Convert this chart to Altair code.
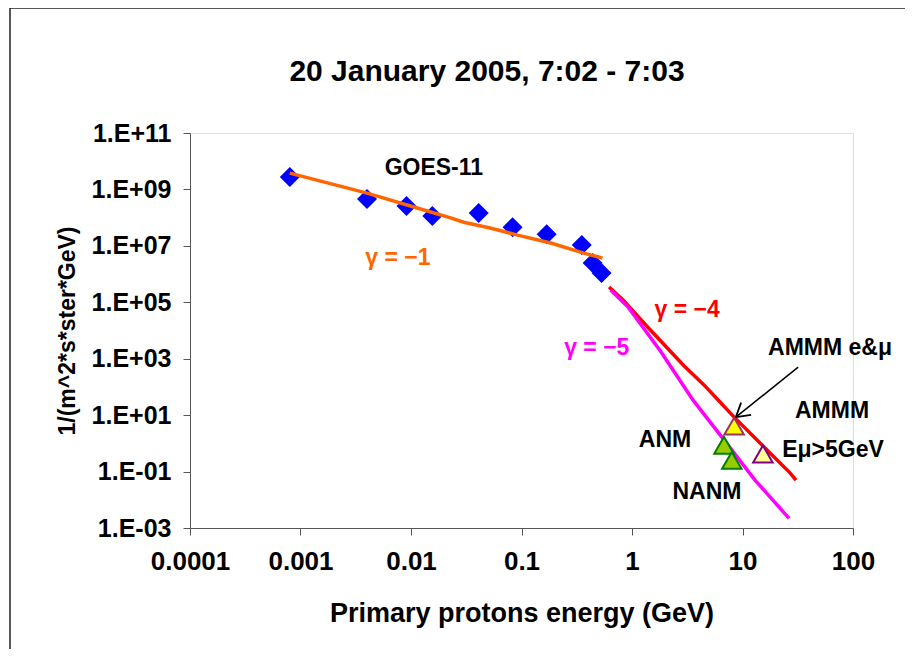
import altair as alt
import pandas as pd

FONT = "Liberation Sans"

title_text = "20 January 2005, 7:02 - 7:03"
x_title = "Primary protons energy (GeV)"
y_title = "1/(m^2*s*ster*GeV)"

x_ticks = [0.0001, 0.001, 0.01, 0.1, 1, 10, 100]
y_exps = [11, 9, 7, 5, 3, 1, -1, -3]
y_tick_labels = ["1.E+11", "1.E+09", "1.E+07", "1.E+05", "1.E+03", "1.E+01", "1.E-01", "1.E-03"]

# GOES-11 measurements (diamonds)
goes_e = [0.0008, 0.004, 0.0091, 0.0156, 0.041, 0.083, 0.169, 0.351, 0.44, 0.53]
goes_f = [2.75e9, 4.6e8, 2.6e8, 1.14e8, 1.45e8, 4.6e7, 2.6e7, 1.07e7, 2.45e6, 1.1e6]

# gamma = -1 fit (orange)
g1_e = [0.0008, 0.004, 0.0114, 0.0228, 0.03, 0.052, 0.092, 0.184, 0.366, 0.54]
g1_f = [3.8e9, 7.4e8, 2.2e8, 9.8e7, 6.9e7, 4.3e7, 2.4e7, 1.26e7, 5.5e6, 3.7e6]

# gamma = -4 (red)
g4_e = [0.62, 0.83, 1.39, 2.95, 4.48, 5.87, 8.4, 26.9, 30.5]
g4_f = [3.5e5, 1.2e5, 1.3e4, 560, 118, 38, 8.5, 0.09, 0.05]

# gamma = -5 (magenta)
g5_e = [0.64, 0.92, 1.82, 3.57, 6.4, 12.97, 26.4]
g5_f = [2.7e5, 6.8e4, 1.8e3, 34, 1.8, 0.05, 0.0022]

# ground-based monitors (triangles)
tri_name = ["AMMM e&μ", "ANM", "NANM", "AMMM Eμ>5GeV"]
tri_e = [8.4, 6.8, 8.0, 15.3]
tri_f = [4.1, 0.86, 0.25, 0.42]
tri_fill = ["#FFFF00", "#99CC00", "#99CC00", "#FFFF99"]
tri_stroke = ["#993366", "#008000", "#008000", "#800080"]

# annotations
ann_text = ["GOES-11", "γ = −1", "γ = −4", "γ = −5", "AMMM e&μ", "AMMM", "Eμ>5GeV", "ANM", "NANM"]
ann_e = [0.0161, 0.0076, 3.15, 0.48, 62, 64.6, 65.9, 1.99, 4.77]
ann_f = [5.7e9, 3.7e6, 5.2e4, 2.4e3, 2.4e3, 13.8, 0.6, 1.29, 0.0186]
ann_color = ["#000000", "#FF6600", "#FF0000", "#FF00FF", "#000000", "#000000", "#000000", "#000000", "#000000"]

# arrow pointing at the AMMM e&mu triangle
arrow_e = [31.9, 8.7]
arrow_f = [500, 8.5]

xs = alt.Scale(type="log", domain=[0.0001, 100], nice=False)
ys = alt.Scale(type="log", domain=[1e-3, 1e11], nice=False)

y_label_expr = "{}[indexof({}, round(log(datum.value)/LN10))]".format(
    "[" + ",".join("'%s'" % s for s in y_tick_labels) + "]",
    "[" + ",".join(str(e) for e in y_exps) + "]",
)

X = alt.X("e:Q", scale=xs, axis=alt.Axis(
    title=x_title, values=x_ticks, format="~g", grid=False,
    labelFont=FONT, labelFontSize=26, labelFontWeight="bold", labelColor="black",
    titleFont=FONT, titleFontSize=27, titleFontWeight="bold", titleColor="black",
    tickSize=7, tickColor="#555555", domainColor="#555555", labelPadding=13, titlePadding=26,
    labelFlush=False, labelOverlap=False))
Y = alt.Y("f:Q", scale=ys, axis=alt.Axis(
    title=y_title, values=[10.0 ** e for e in y_exps], labelExpr=y_label_expr, grid=False,
    labelFont=FONT, labelFontSize=25, labelFontWeight="bold", labelColor="black",
    titleFont=FONT, titleFontSize=23, titleFontWeight="bold", titleColor="black",
    tickSize=7, tickColor="#555555", domainColor="#555555", labelPadding=12, titlePadding=12,
    labelFlush=False, labelOverlap=False))

def df(e, f, **extra):
    d = {"e": e, "f": f}
    d.update(extra)
    return pd.DataFrame(d)

frame = alt.Chart(pd.DataFrame({"a": [0]})).mark_rect(
    fill="transparent", stroke="#222222", strokeWidth=1.5
).encode(x=alt.value(-180), x2=alt.value(1200), y=alt.value(-125), y2=alt.value(1000))

title = alt.Chart(pd.DataFrame({"t": [title_text]})).mark_text(
    font=FONT, fontSize=30, fontWeight="bold", color="black", align="center", baseline="middle"
).encode(text="t:N", x=alt.value(297), y=alt.value(-61))

goes = alt.Chart(df(goes_e, goes_f)).mark_point(
    shape="diamond", filled=True, color="#0000FF", size=400, opacity=1
).encode(x=X, y=Y)

line1 = alt.Chart(df(g1_e, g1_f, o=list(range(len(g1_e))))).mark_line(
    color="#FF6600", strokeWidth=3.5).encode(x=X, y=Y, order="o:Q")
line4 = alt.Chart(df(g4_e, g4_f, o=list(range(len(g4_e))))).mark_line(
    color="#FF0000", strokeWidth=3.5).encode(x=X, y=Y, order="o:Q")
line5 = alt.Chart(df(g5_e, g5_f, o=list(range(len(g5_e))))).mark_line(
    color="#FF00FF", strokeWidth=3.5).encode(x=X, y=Y, order="o:Q")

tris = alt.Chart(df(tri_e, tri_f, name=tri_name, fill=tri_fill, stroke=tri_stroke)).mark_point(
    shape="triangle-up", filled=True, size=380, strokeWidth=2, opacity=1
).encode(x=X, y=Y,
         fill=alt.Fill("fill:N", scale=None),
         stroke=alt.Stroke("stroke:N", scale=None))

arrow_line = alt.Chart(df(arrow_e, arrow_f, o=[0, 1])).mark_line(
    color="black", strokeWidth=1.5).encode(x=X, y=Y, order="o:Q")
arrow_head = alt.Chart(df(arrow_e[1:], arrow_f[1:])).mark_point(
    shape="M-0.6,1L0,0L0.6,1", filled=False, color="black", strokeWidth=1.8,
    size=700, angle=231, opacity=1
).encode(x=X, y=Y)

ann = alt.Chart(df(ann_e, ann_f, t=ann_text, c=ann_color)).mark_text(
    font=FONT, fontSize=23, fontWeight="bold", align="center", baseline="middle"
).encode(x=X, y=Y, text="t:N", color=alt.Color("c:N", scale=None))

chart = alt.layer(
    frame, title, goes, line1, line4, line5, arrow_line, arrow_head, tris, ann
).properties(
    width=663, height=395,
    padding={"left": 182, "top": 125, "right": 52, "bottom": 121},
    autosize=alt.AutoSizeParams(type="none"),
).configure_view(stroke="transparent").configure(background="white")

chart.save("out.html", embed_options={"renderer": "svg", "actions": False})
